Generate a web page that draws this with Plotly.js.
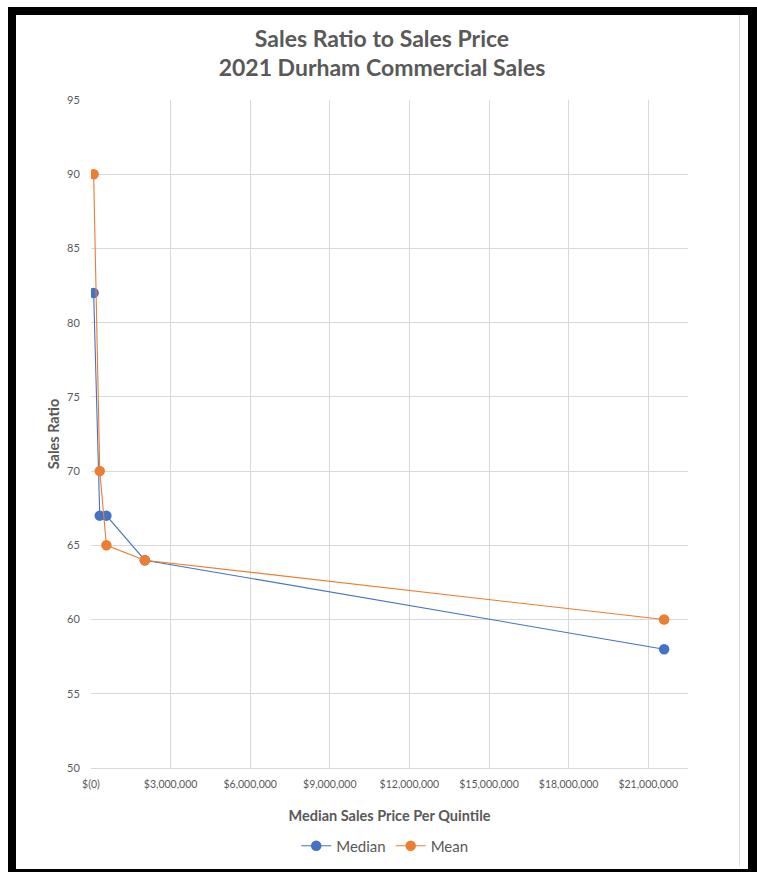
<!DOCTYPE html>
<html>
<head>
<meta charset="utf-8">
<script src="https://cdn.plot.ly/plotly-3.0.1.min.js"></script>
<style>
  html, body { margin: 0; padding: 0; background: #ffffff; width: 757px; height: 872px; overflow: hidden; }
  #frame { position: absolute; left: 8px; top: 7px; width: 749px; height: 865px; background: #000000; }
  #chart { position: absolute; left: 16px; top: 15px; width: 732px; height: 854px; background: #ffffff; }
  #edge { position: absolute; left: 739px; top: 15px; width: 1px; height: 851px; background: #dddddd; }
</style>
</head>
<body>
<div id="frame"></div>
<div id="chart"></div>
<div id="edge"></div>
<script>
// Median sales price per quintile (x), sales ratios (y)
const quintilePrice = [100000, 330000, 580000, 2030000, 21600000];
const medianRatio = [82, 67, 67, 64, 58];
const meanRatio = [90, 70, 65, 64, 60];
const xTickVals = [0, 3000000, 6000000, 9000000, 12000000, 15000000, 18000000, 21000000];
const xTickText = ["$(0)", "$3,000,000", "$6,000,000", "$9,000,000", "$12,000,000", "$15,000,000", "$18,000,000", "$21,000,000"];
const seriesNames = ["Median", "Mean"];

const FONT = "Lato, 'Open Sans', sans-serif";
const GRAY = "#595959";

const traces = [
  {
    x: quintilePrice, y: medianRatio, name: seriesNames[0],
    type: "scatter", mode: "lines+markers",
    line: { color: "#4472C4", width: 1.1 },
    marker: { color: "#4472C4", size: 10.5 }
  },
  {
    x: quintilePrice, y: meanRatio, name: seriesNames[1],
    type: "scatter", mode: "lines+markers",
    line: { color: "#ED7D31", width: 1.1 },
    marker: { color: "#ED7D31", size: 10.5 }
  }
];

const layout = {
  width: 732, height: 854,
  paper_bgcolor: "#ffffff", plot_bgcolor: "#ffffff",
  margin: { l: 75, r: 60, t: 85, b: 101, autoexpand: false },
  font: { family: FONT, color: GRAY },
  title: {
    text: "<b>Sales Ratio to Sales Price<br>2021 Durham Commercial Sales</b>",
    font: { family: FONT, size: 23, color: GRAY },
    x: 0.5, xref: "container", xanchor: "center",
    y: 0.963, yref: "container", yanchor: "middle"
  },
  xaxis: {
    range: [0, 22500000],
    tickvals: xTickVals, ticktext: xTickText,
    tickfont: { family: FONT, size: 10.5, color: GRAY },
    showgrid: true, gridcolor: "#d9d9d9", gridwidth: 1,
    zeroline: false,
    showline: true, linecolor: "#d9d9d9", linewidth: 1,
    ticks: "outside", ticklen: 6, tickcolor: "rgba(0,0,0,0)",
    automargin: false,
    title: { text: "<b>Median Sales Price Per Quintile</b>", font: { family: FONT, size: 14.5, color: GRAY }, standoff: 22 }
  },
  yaxis: {
    range: [50, 95], dtick: 5, tick0: 50,
    tickfont: { family: FONT, size: 11, color: GRAY },
    showgrid: true, gridcolor: "#d9d9d9", gridwidth: 1,
    zeroline: false, showline: false,
    ticks: "outside", ticklen: 8, tickcolor: "rgba(0,0,0,0)",
    automargin: false,
    title: { text: "<b>Sales Ratio</b>", font: { family: FONT, size: 14.5, color: GRAY }, standoff: 3 }
  },
  showlegend: true,
  legend: {
    orientation: "h", x: 0.492, xanchor: "center",
    yref: "container", y: 0.027, yanchor: "middle",
    font: { family: FONT, size: 15, color: GRAY },
    itemwidth: 30
  },
  hovermode: false
};

Plotly.newPlot("chart", traces, layout, { displayModeBar: false, staticPlot: true });
</script>
</body>
</html>
